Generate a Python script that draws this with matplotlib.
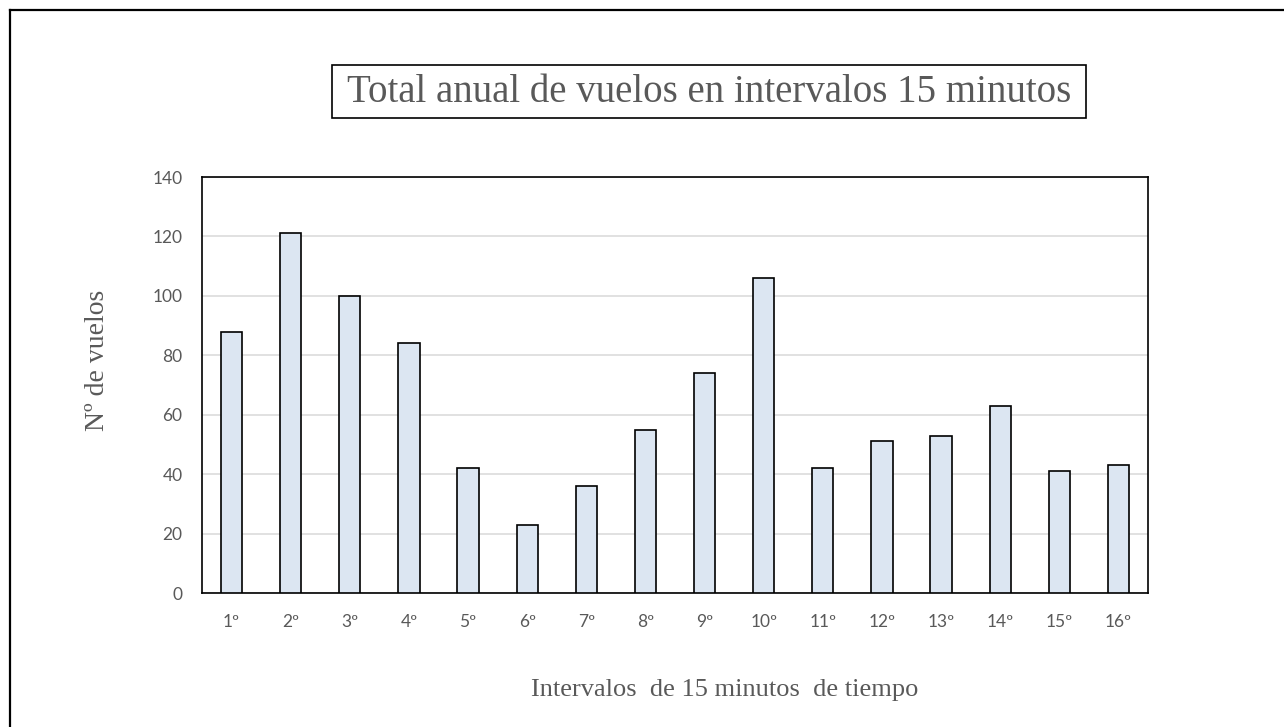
import numpy as np
import matplotlib
matplotlib.use('Agg')
import matplotlib.pyplot as plt
from matplotlib.patches import Rectangle
from matplotlib.lines import Line2D

#DATA
intervalos = ['1º', '2º', '3º', '4º', '5º', '6º', '7º', '8º',
              '9º', '10º', '11º', '12º', '13º', '14º', '15º', '16º']
vuelos = [88, 121, 100, 84, 42, 23, 36, 55, 74, 106, 42, 51, 53, 63, 41, 43]

titulo = 'Total anual de vuelos en intervalos 15 minutos'
etiqueta_x = 'Intervalos  de 15 minutos  de tiempo'
etiqueta_y = 'Nº de vuelos'

#STYLE
gris = '#595959'
relleno = '#DCE6F2'
serif = 'Liberation Serif'
sans = 'Lato'

W, H = 1284, 727
fig = plt.figure(figsize=(W / 100, H / 100), dpi=100)
fig.patch.set_facecolor('white')

#AXES (pixel box: x 202-1148, y 177-593)
ax = fig.add_axes([202 / W, 1 - 593 / H, (1148 - 202) / W, (593 - 177) / H])

x = np.arange(len(intervalos))
ax.bar(x, vuelos, width=0.36, color=relleno, edgecolor='black',
       linewidth=1.2, zorder=3)

ax.set_xlim(-0.5, len(intervalos) - 0.5)
ax.set_ylim(0, 140)
ax.set_yticks(np.arange(0, 141, 20))
ax.set_xticks(x)
ax.set_xticklabels(intervalos)

ax.grid(axis='y', color='#D9D9D9', linewidth=1.1, zorder=0)
ax.set_axisbelow(True)
for s in ax.spines.values():
    s.set_color('black')
    s.set_linewidth(1.2)

ax.tick_params(axis='both', length=0, labelsize=12.5, labelcolor=gris)
ax.tick_params(axis='y', pad=14)
ax.tick_params(axis='x', pad=15)
for lab in ax.get_xticklabels() + ax.get_yticklabels():
    lab.set_family(sans)

#LABELS
fig.text(97 / W, 1 - 360 / H, etiqueta_y, rotation=90, ha='center', va='center',
         fontsize=20, color=gris, family=serif)
fig.text(725 / W, 1 - 690 / H, etiqueta_x, ha='center', va='center',
         fontsize=19, color=gris, family=serif)

#TITLE BOX
fig.add_artist(Rectangle((332 / W, 1 - 118 / H), (1086 - 332) / W, (118 - 65) / H,
                         transform=fig.transFigure, fill=False,
                         edgecolor='black', linewidth=1.2))
fig.text(709 / W, 1 - 92 / H, titulo, ha='center', va='center',
         fontsize=28, color=gris, family=serif)

#OUTER BORDER (top and left only)
fig.add_artist(Line2D([10 / W, 1], [1 - 10 / H, 1 - 10 / H],
                      transform=fig.transFigure, color='black', linewidth=1.6))
fig.add_artist(Line2D([10 / W, 10 / W], [0, 1 - 10 / H],
                      transform=fig.transFigure, color='black', linewidth=1.6))

plt.savefig('out.png', dpi=100)
